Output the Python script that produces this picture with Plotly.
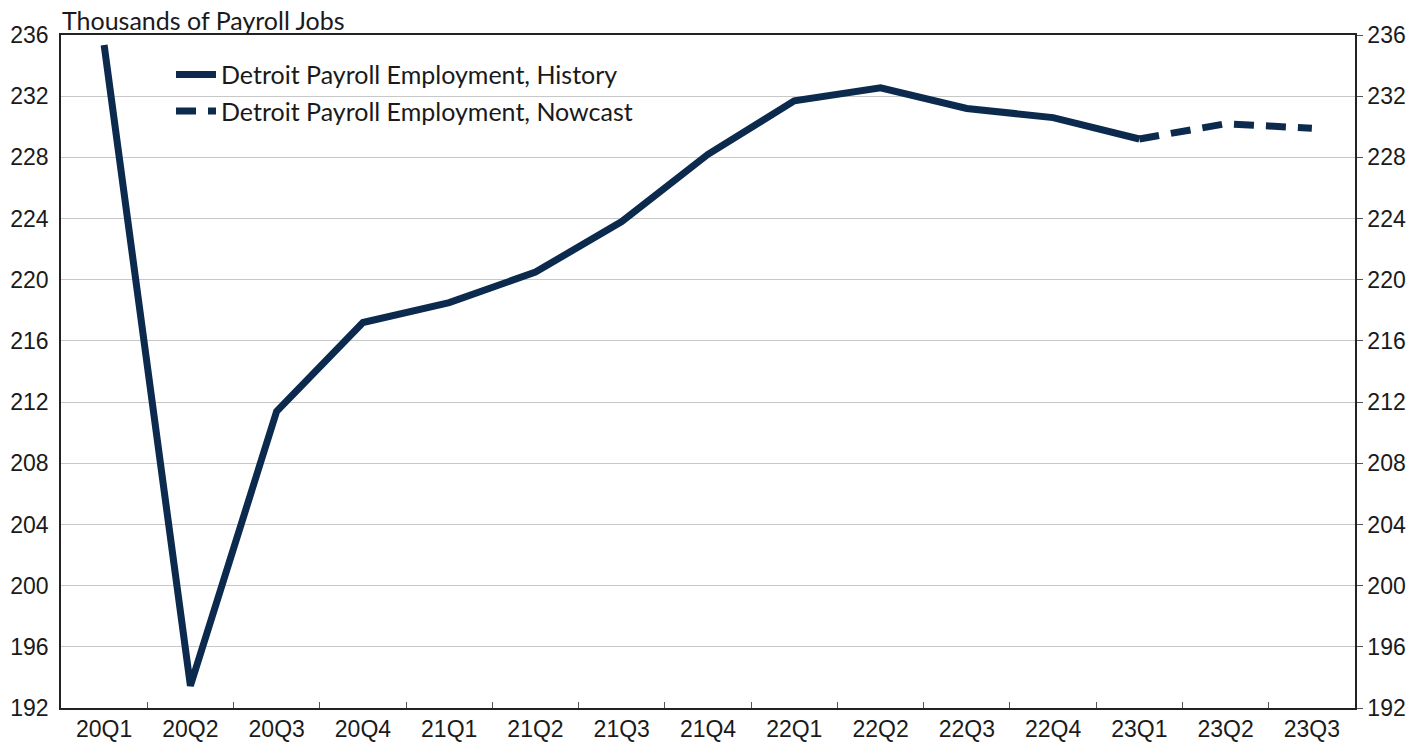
import plotly.graph_objects as go

quarters = ["20Q1", "20Q2", "20Q3", "20Q4", "21Q1", "21Q2", "21Q3", "21Q4",
            "22Q1", "22Q2", "22Q3", "22Q4", "23Q1", "23Q2", "23Q3"]
history = [235.35, 193.45, 211.4, 217.2, 218.5, 220.5, 223.8, 228.2,
           231.7, 232.55, 231.2, 230.6, 229.2, None, None]
nowcast = [None] * 12 + [229.2, 230.2, 229.9]
y_ticks = [192, 196, 200, 204, 208, 212, 216, 220, 224, 228, 232, 236]

navy = "#0b2a4d"
tick_font = dict(family="Liberation Sans, Arial", size=23, color="#1a1a1a")
text_font = dict(family="Lato, Calibri, sans-serif", size=25, color="#1a1a1a")

fig = go.Figure()
fig.add_trace(go.Scatter(x=quarters, y=history, mode="lines",
                         name="Detroit Payroll Employment, History",
                         legendgroup="a",
                         line=dict(color=navy, width=7)))
fig.add_trace(go.Scatter(x=quarters, y=nowcast, mode="lines",
                         name="Detroit Payroll Employment, Nowcast",
                         legendgroup="b",
                         line=dict(color=navy, width=7, dash="20px,12px")))
fig.add_trace(go.Scatter(x=quarters, y=history, yaxis="y2", mode="lines",
                         showlegend=False, hoverinfo="skip",
                         line=dict(color="rgba(0,0,0,0)", width=0)))

fig.update_layout(
    width=1417, height=734,
    margin=dict(l=53, r=70, t=27, b=34),
    paper_bgcolor="white", plot_bgcolor="white",
    showlegend=True,
    legend=dict(x=0.085, y=0.975, xanchor="left", yanchor="top",
                font=text_font, bgcolor="rgba(0,0,0,0)", borderwidth=0,
                itemwidth=40, tracegroupgap=1, traceorder="grouped"),
    xaxis=dict(range=[-0.5, 14.5], automargin=False,
               showline=True, linecolor="#222", linewidth=1.5, mirror=True,
               ticks="inside", tickson="boundaries", ticklen=6, tickcolor="#555",
               showgrid=False, tickfont=tick_font, ticklabelstandoff=0),
    yaxis=dict(range=[192, 236], tickvals=y_ticks, automargin=False,
               showgrid=True, gridcolor="#c8c8c8", gridwidth=1, zeroline=False,
               showline=True, linecolor="#222", linewidth=1.5, ticks="",
               ticklabelstandoff=6, tickfont=tick_font),
    yaxis2=dict(range=[192, 236], tickvals=y_ticks, overlaying="y", side="right",
                automargin=False, showgrid=False, zeroline=False, showline=True,
                linecolor="#222", linewidth=1.5, ticks="outside", ticklen=6,
                tickcolor="#555", tickfont=tick_font),
    annotations=[dict(text="Thousands of Payroll Jobs", xref="paper", yref="paper",
                      x=0, y=1, xanchor="left", yanchor="bottom", yshift=-1,
                      borderpad=0, showarrow=False, font=text_font)],
)

fig.write_html("out.html")
